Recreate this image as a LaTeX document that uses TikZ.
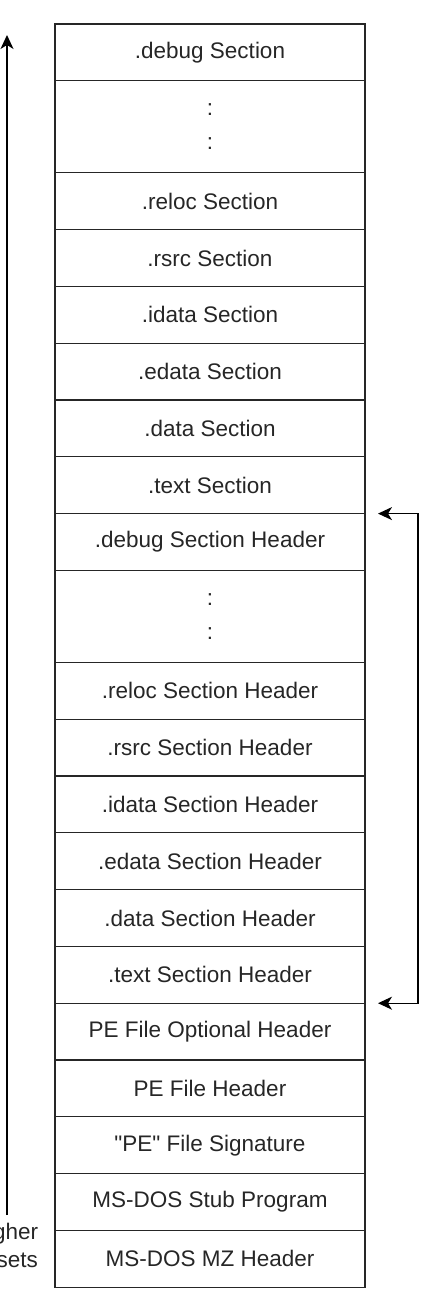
\documentclass[tikz,border=0pt]{standalone}
\usepackage{fontspec}
\setmainfont{Liberation Sans}
\usetikzlibrary{arrows.meta}
\begin{document}
\begin{tikzpicture}[x=1pt,y=-1pt,
  row/.style={draw=black!85, line width=1.3pt, minimum width=310pt, minimum height=56.8pt,
    inner sep=0pt, outer sep=0pt, anchor=north, font=\fontsize{22.5}{27}\selectfont, text=black!85},
  gap/.style={row, minimum height=92pt, align=center, font=\fontsize{22.5}{34}\selectfont},
  conn/.style={line width=1.3pt, draw=black},
  tip/.style={-{Stealth[length=14pt,width=13pt,inset=4pt]}}]
\useasboundingbox (0,0) rectangle (426,1292);
\clip (0,0) rectangle (426,1292);
\node[row] (r1) at (210,24) {.debug Section};
\node[gap] (r2) at (r1.south) {:\\:};
\node[row] (r3) at (r2.south) {.reloc Section};
\node[row] (r4) at (r3.south) {.rsrc Section};
\node[row] (r5) at (r4.south) {.idata Section};
\node[row] (r6) at (r5.south) {.edata Section};
\node[row] (r7) at (r6.south) {.data Section};
\node[row] (r8) at (r7.south) {.text Section};
\node[row] (r9) at (r8.south) {.debug Section Header};
\node[gap] (r10) at (r9.south) {:\\:};
\node[row] (r11) at (r10.south) {.reloc Section Header};
\node[row] (r12) at (r11.south) {.rsrc Section Header};
\node[row] (r13) at (r12.south) {.idata Section Header};
\node[row] (r14) at (r13.south) {.edata Section Header};
\node[row] (r15) at (r14.south) {.data Section Header};
\node[row] (r16) at (r15.south) {.text Section Header};
\node[row] (r17) at (r16.south) {PE File Optional Header};
\node[row] (r18) at (r17.south) {PE File Header};
\node[row] (r19) at (r18.south) {\textquotedbl{}PE\textquotedbl{} File Signature};
\node[row] (r20) at (r19.south) {MS-DOS Stub Program};
\node[row] (r21) at (r20.south) {MS-DOS MZ Header};
% right bracket arrow
\coordinate (a1) at ([xshift=13pt]r9.north east);
\coordinate (a2) at ([xshift=13pt]r17.north east);
\coordinate (c1) at ([xshift=53pt]r9.north east);
\coordinate (c2) at ([xshift=53pt]r17.north east);
\draw[conn, tip] (c1) -- (a1);
\draw[conn, tip] (c2) -- (a2);
\draw[conn, line cap=rect] (c1) -- (c2);
% left arrow
\node[align=center, font=\fontsize{22.5}{28}\selectfont, text=black!85, inner sep=0pt] (lbl) at (5,1245) {Higher\\offsets};
\coordinate (lb) at (7,1215);
\coordinate (lt) at (7,35);
\draw[conn, tip] (lb) -- (lt);
\end{tikzpicture}
\end{document}
